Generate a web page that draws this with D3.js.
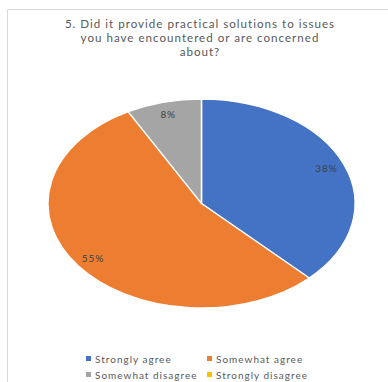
<!DOCTYPE html>
<html>
<head>
<meta charset="utf-8">
<script src="https://cdn.jsdelivr.net/npm/d3@7"></script>
<style>
  body { margin: 0; background: #fff; }
  text { font-family: Lato, "Open Sans", sans-serif; }
</style>
</head>
<body>
<svg id="chart" width="388" height="382"></svg>
<script>
// data
var categories = ["Strongly agree", "Somewhat agree", "Somewhat disagree", "Strongly disagree"];
var values = [38, 55, 8, 0];
var labels = ["38%", "55%", "8%", ""];
var colors = ["#4472C4", "#ED7D31", "#A5A5A5", "#FFC000"];
var titleLines = ["5. Did it provide practical solutions to issues",
                  "you have encountered or are concerned",
                  "about?"];

var svg = d3.select("#chart");

// chart border (only left & top show in the crop)
svg.append("path")
  .attr("d", "M7.5,382 V9.5 H388")
  .attr("fill", "none")
  .attr("stroke", "#d9d9d9")
  .attr("stroke-width", 1);

// title
svg.append("g")
  .selectAll("text")
  .data(titleLines)
  .enter().append("text")
  .attr("x", 200)
  .attr("y", function (d, i) { return 27.5 + i * 14; })
  .attr("text-anchor", "middle")
  .attr("font-size", "11.6px")
  .attr("letter-spacing", "1px")
  .attr("fill", "#595959")
  .text(function (d) { return d; });

// pie (stretched circle -> ellipse)
var cx = 201.5, cy = 203.5, rx = 153.5, ry = 104.5;

var pie = d3.pie().sort(null).value(function (d) { return d; });
var arcs = pie(values);

var arc = d3.arc().innerRadius(0).outerRadius(ry);

var pieG = svg.append("g")
  .attr("transform", "translate(" + cx + "," + cy + ") scale(" + (rx / ry) + ",1)");

pieG.selectAll("path")
  .data(arcs)
  .enter().append("path")
  .attr("d", arc)
  .attr("fill", function (d, i) { return colors[i]; })
  .attr("stroke", "#fff")
  .attr("stroke-width", 1.3)
  .attr("vector-effect", "non-scaling-stroke");

// data labels
var labelArc = d3.arc().innerRadius(ry * 0.88).outerRadius(ry * 0.88);
svg.append("g")
  .selectAll("text")
  .data(arcs)
  .enter().append("text")
  .attr("x", function (d) { return cx + labelArc.centroid(d)[0] * rx / ry; })
  .attr("y", function (d) { return cy + labelArc.centroid(d)[1]; })
  .attr("dy", "0.35em")
  .attr("text-anchor", "middle")
  .attr("font-size", "10px")
  .attr("letter-spacing", "0.9px")
  .attr("fill", "#404040")
  .text(function (d, i) { return labels[i]; });

// legend
var legendX = [86, 207];
var legendY = [359, 375];
var legend = svg.append("g")
  .selectAll("g")
  .data(categories)
  .enter().append("g")
  .attr("transform", function (d, i) {
    return "translate(" + legendX[i % 2] + "," + legendY[Math.floor(i / 2)] + ")";
  });

legend.append("rect")
  .attr("x", 0)
  .attr("y", -3)
  .attr("width", 5)
  .attr("height", 5)
  .attr("fill", function (d, i) { return colors[i]; });

legend.append("text")
  .attr("x", 9)
  .attr("y", 0)
  .attr("dy", "0.35em")
  .attr("font-size", "10px")
  .attr("letter-spacing", "1px")
  .attr("fill", "#595959")
  .text(function (d) { return d; });
</script>
</body>
</html>
